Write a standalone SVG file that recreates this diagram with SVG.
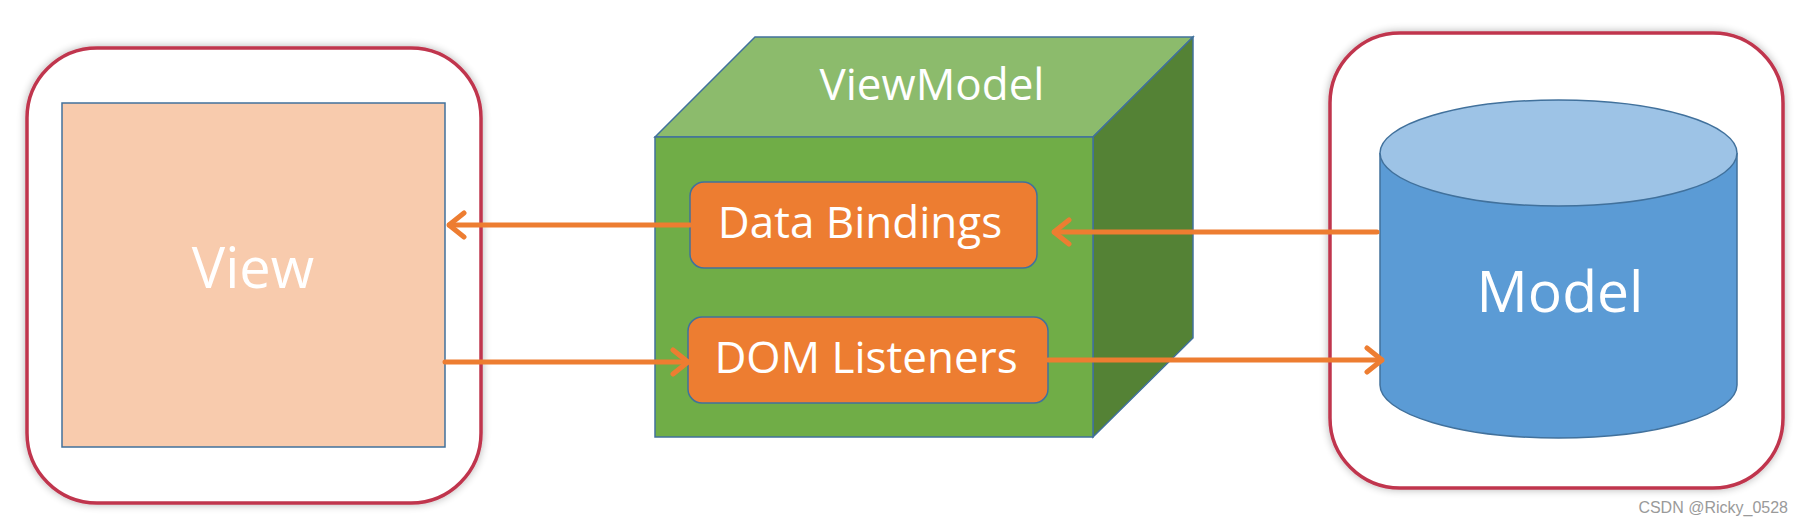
<svg xmlns="http://www.w3.org/2000/svg" width="1805" height="525" viewBox="0 0 1805 525">
<style>
.frame{fill:#ffffff;stroke:#c0364e;stroke-width:3.5}
.edge{stroke:#41719c;stroke-width:1.5}
.conn{fill:none;stroke:#ed7d31;stroke-width:5;stroke-linecap:round}
.lbl{font-family:"Open Sans","Noto Sans",sans-serif;fill:#ffffff;text-anchor:middle}
</style>
<defs>
<filter id="sh" x="-10%" y="-10%" width="120%" height="120%">
<feGaussianBlur in="SourceAlpha" stdDeviation="4"/>
<feComponentTransfer><feFuncA type="linear" slope="0.3"/></feComponentTransfer>
<feMerge><feMergeNode/><feMergeNode in="SourceGraphic"/></feMerge>
</filter>
<marker id="ah" viewBox="0 0 20 30" refX="18" refY="15" markerWidth="20" markerHeight="30" markerUnits="userSpaceOnUse" orient="auto">
<path d="M3,3 L18,15 L3,27" fill="none" stroke="#ed7d31" stroke-width="5" stroke-linecap="round" stroke-linejoin="round"/>
</marker>
</defs>
<rect width="1805" height="525" fill="#ffffff"/>
<g id="view">
<rect class="frame" x="27" y="48" width="454" height="455" rx="70" filter="url(#sh)"/>
<rect x="62" y="103" width="383" height="344" fill="#f8cbad" class="edge"/>
<text class="lbl" x="253" y="288" font-size="56">View</text>
</g>
<g id="viewmodel">
<polygon points="655,137 755,37 1193,37 1093,137" fill="#8cbb6c" class="edge"/>
<polygon points="1093,137 1193,37 1193,338 1093,437" fill="#548235" class="edge"/>
<rect x="655" y="137" width="438" height="300" fill="#70ad47" class="edge"/>
<text class="lbl" x="932" y="100" font-size="44">ViewModel</text>
</g>
<g id="data-bindings">
<rect x="690" y="182" width="347" height="86" rx="14" fill="#ed7d31" class="edge"/>
<text class="lbl" x="860" y="238" font-size="44">Data Bindings</text>
</g>
<g id="dom-listeners">
<rect x="688" y="317" width="360" height="86" rx="14" fill="#ed7d31" class="edge"/>
<text class="lbl" x="866" y="373" font-size="44">DOM Listeners</text>
</g>
<g id="model">
<rect class="frame" x="1330" y="33" width="453" height="455" rx="70" filter="url(#sh)"/>
<path d="M1380,153 L1380,385 A178.5,53 0 0 0 1737,385 L1737,153" fill="#5b9bd5" class="edge"/>
<ellipse cx="1558.5" cy="153" rx="178.5" ry="53" fill="#9dc3e6" class="edge"/>
<text class="lbl" x="1560" y="312" font-size="57">Model</text>
</g>
<g id="connectors">
<line class="conn" x1="690" y1="225" x2="449" y2="225" marker-end="url(#ah)"/>
<line class="conn" x1="445" y1="362" x2="688" y2="362" marker-end="url(#ah)"/>
<line class="conn" x1="1377" y1="232" x2="1054" y2="232" marker-end="url(#ah)"/>
<line class="conn" x1="1048" y1="360" x2="1382" y2="360" marker-end="url(#ah)"/>
</g>
<text x="1788" y="513" font-family="'Liberation Sans',Arial,sans-serif" font-size="16" fill="#9a9a9a" text-anchor="end">CSDN @Ricky_0528</text>
</svg>
